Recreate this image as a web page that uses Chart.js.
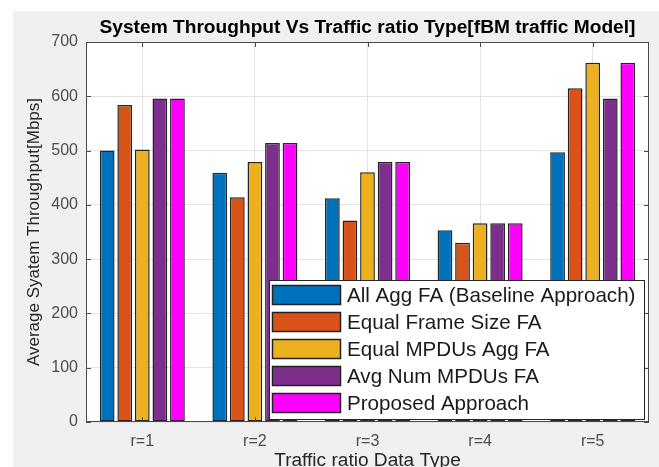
<!DOCTYPE html>
<html>
<head>
<meta charset="utf-8">
<script src="https://cdn.jsdelivr.net/npm/chart.js@4.4.1/dist/chart.umd.min.js"></script>
<style>
  html, body { margin: 0; padding: 0; background: #ffffff; }
  canvas { display: block; }
</style>
</head>
<body>
<canvas id="chart" width="659" height="467"></canvas>
<script>
// ---------- data ----------
const categories = ['r=1', 'r=2', 'r=3', 'r=4', 'r=5'];
const seriesNames = [
  'All Agg FA (Baseline Approach)',
  'Equal Frame Size FA',
  'Equal MPDUs Agg FA',
  'Avg Num MPDUs FA',
  'Proposed Approach'
];
const allAggFA     = [500, 459, 412, 353, 497];
const equalFrameFA = [584, 414, 371, 330, 615];
const equalMpduFA  = [502, 479, 460, 366, 662];
const avgNumFA     = [596, 514, 479, 366, 596];
const proposed     = [596, 514, 479, 366, 662];
const yTicks = [0, 100, 200, 300, 400, 500, 600, 700];

const colors = ['#0072BD', '#D95319', '#EDB120', '#7E2F8E', '#FF00FF'];
const FONT = '"Liberation Sans", Arial, Helvetica, sans-serif';

// text slightly wider than the font, as in the stretched original figure
function stretchedText(ctx, txt, x, y, sx) {
  ctx.save();
  ctx.translate(x, y);
  ctx.scale(sx, 1);
  ctx.fillText(txt, 0, 0);
  ctx.restore();
}

// ---------- figure decorations: grey figure, white axes, box, ticks, titles ----------
const figurePlugin = {
  id: 'figure',
  beforeDraw(chart) {
    const { ctx, chartArea: a } = chart;
    ctx.save();
    ctx.fillStyle = '#f0f0f0';
    ctx.fillRect(13, 11, chart.width - 13, chart.height - 11);
    ctx.fillStyle = '#ffffff';
    ctx.fillRect(a.left, a.top, a.right - a.left, a.bottom - a.top);
    ctx.restore();
  },
  afterDatasetsDraw(chart) {
    const { ctx, chartArea: a, scales } = chart;
    ctx.save();
    // box
    ctx.strokeStyle = '#4a4a4a';
    ctx.lineWidth = 1;
    ctx.strokeRect(a.left + 0.5, a.top + 0.5, a.right - a.left - 1, a.bottom - a.top - 1);
    // inward ticks on all four sides
    ctx.beginPath();
    scales.y.ticks.forEach((t, i) => {
      const y = Math.round(scales.y.getPixelForTick(i)) + 0.5;
      ctx.moveTo(a.left, y); ctx.lineTo(a.left + 5, y);
      ctx.moveTo(a.right, y); ctx.lineTo(a.right - 5, y);
    });
    categories.forEach((c, i) => {
      const x = Math.round(scales.x.getPixelForValue(i)) + 0.5;
      ctx.moveTo(x, a.bottom); ctx.lineTo(x, a.bottom - 5);
      ctx.moveTo(x, a.top); ctx.lineTo(x, a.top + 5);
    });
    ctx.stroke();

    // titles
    const cx = (a.left + a.right) / 2;
    ctx.fillStyle = '#000000';
    ctx.font = 'bold 18px ' + FONT;
    ctx.textAlign = 'center';
    ctx.textBaseline = 'middle';
    stretchedText(ctx, 'System Throughput Vs Traffic ratio Type[fBM traffic Model]', cx, 28, 1.064);

    ctx.fillStyle = '#262626';
    ctx.font = '18px ' + FONT;
    stretchedText(ctx, 'Traffic ratio Data Type', cx, 461, 1.06);

    ctx.font = '17px ' + FONT;
    ctx.translate(34, (a.top + a.bottom) / 2);
    ctx.rotate(-Math.PI / 2);
    ctx.fillText('Average Syatem Throughput[Mbps]', 0, 0);
    ctx.restore();
  }
};

// ---------- legend drawn inside the axes, bottom right ----------
const insideLegend = {
  id: 'insideLegend',
  afterDatasetsDraw(chart) {
    const { ctx, chartArea: a } = chart;
    const sets = chart.data.datasets;
    const rowH = 27, boxW = 69, boxH = 20;
    const w = 375, h = rowH * sets.length + 4;
    const x0 = a.right - 5 - w;
    const y0 = a.bottom - 3 - h;
    ctx.save();
    ctx.fillStyle = '#ffffff';
    ctx.fillRect(x0, y0, w, h);
    ctx.strokeStyle = '#262626';
    ctx.lineWidth = 1;
    ctx.strokeRect(x0 + 0.5, y0 + 0.5, w, h);
    ctx.font = '20.6px ' + FONT;
    ctx.textAlign = 'left';
    ctx.textBaseline = 'middle';
    sets.forEach((ds, i) => {
      const yy = y0 + 5 + i * rowH;
      ctx.fillStyle = ds.backgroundColor;
      ctx.fillRect(x0 + 3, yy, boxW, boxH);
      ctx.strokeStyle = '#222222';
      ctx.lineWidth = 1.5;
      ctx.strokeRect(x0 + 3.5, yy + 0.5, boxW - 1, boxH - 1);
      ctx.fillStyle = '#1a1a1a';
      ctx.fillText(ds.label, x0 + 78, yy + boxH / 2 + 1);
    });
    ctx.restore();
  }
};

const seriesData = [allAggFA, equalFrameFA, equalMpduFA, avgNumFA, proposed];

new Chart(document.getElementById('chart'), {
  type: 'bar',
  data: {
    labels: categories,
    datasets: seriesData.map((vals, i) => ({
      label: seriesNames[i],
      data: vals,
      backgroundColor: colors[i],
      borderColor: '#262626',
      borderWidth: 1.5,
      borderSkipped: false,
      categoryPercentage: 0.78,
      barPercentage: 0.84
    }))
  },
  options: {
    responsive: false,
    animation: false,
    layout: { padding: { left: 0, top: 42, right: 10, bottom: 0 } },
    plugins: {
      legend: { display: false },
      title: { display: false },
      tooltip: { enabled: false }
    },
    scales: {
      x: {
        grid: { offset: false, color: '#e3e3e3', drawTicks: false },
        border: { display: false },
        ticks: { color: '#4d4d4d', font: { family: FONT, size: 16 }, padding: 10 },
        afterFit(s) { s.height = 45; }
      },
      y: {
        min: 0,
        max: 700,
        afterBuildTicks(s) { s.ticks = yTicks.map(v => ({ value: v })); },
        grid: { color: '#e3e3e3', drawTicks: false },
        border: { display: false },
        ticks: { color: '#4d4d4d', font: { family: FONT, size: 16 }, padding: 8 },
        afterFit(s) { s.width = 86; }
      }
    }
  },
  plugins: [figurePlugin, insideLegend]
});
</script>
</body>
</html>
